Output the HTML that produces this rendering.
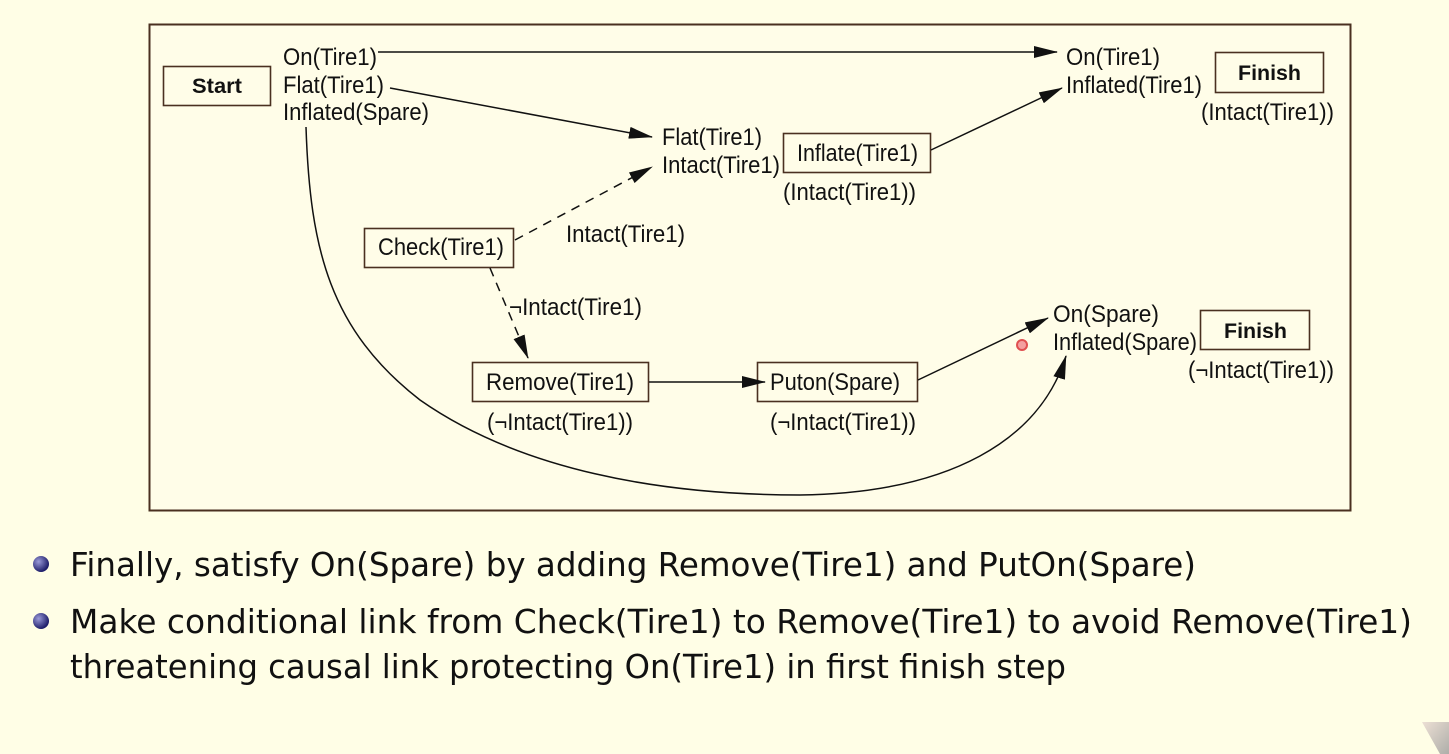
<!DOCTYPE html>
<html><head><meta charset="utf-8"><style>
html,body{margin:0;padding:0;background:#fffee6;}
svg{display:block}
.d{font-family:"Liberation Sans",sans-serif;font-size:24px;fill:#111;}
.b{font-family:"Liberation Sans",sans-serif;font-size:21px;font-weight:bold;fill:#111;}
.t{font-family:"DejaVu Sans","Liberation Sans",sans-serif;font-size:33px;fill:#111;}
</style></head><body>
<svg width="1449" height="754" viewBox="0 0 1449 754" xmlns="http://www.w3.org/2000/svg">
<defs>
<marker id="a" markerWidth="24" markerHeight="12" refX="23" refY="6" orient="auto" markerUnits="userSpaceOnUse"><path d="M0,0 L24,6 L0,12 z" fill="#111"/></marker>
<radialGradient id="g" cx="35%" cy="35%" r="65%"><stop offset="0" stop-color="#9a9ad8"/><stop offset="1" stop-color="#1e1e6a"/></radialGradient>
<linearGradient id="c" x1="0" y1="0" x2="1" y2="1"><stop offset="0" stop-color="#e8d8d0"/><stop offset="1" stop-color="#9a9a9a"/></linearGradient>
</defs>
<rect x="149.5" y="24.5" width="1201" height="486" fill="#fffde8" stroke="#4a3020" stroke-width="2"/>
<g fill="none" stroke="#4a3020" stroke-width="1.6">
<rect x="163.5" y="66.5" width="107" height="39"/>
<rect x="783.5" y="133.5" width="147" height="39"/>
<rect x="1215.5" y="52.5" width="108" height="40"/>
<rect x="364.5" y="228.5" width="149" height="39"/>
<rect x="472.5" y="362.5" width="176" height="39"/>
<rect x="757.5" y="362.5" width="160" height="39"/>
<rect x="1200.5" y="310.5" width="109" height="39"/>
</g>
<g fill="none" stroke="#111" stroke-width="1.5">
<line x1="378" y1="52" x2="1057" y2="52" marker-end="url(#a)"/>
<line x1="390" y1="88" x2="652" y2="137" marker-end="url(#a)"/>
<path d="M306,127 C310,250 330,330 420,400 C520,470 660,495 800,495 C950,493 1040,440 1066,356" marker-end="url(#a)"/>
<line x1="931" y1="150" x2="1062" y2="88" marker-end="url(#a)"/>
<line x1="515" y1="240" x2="652" y2="167" stroke-dasharray="9,7" marker-end="url(#a)"/>
<line x1="490" y1="268" x2="528" y2="358" stroke-dasharray="9,7" marker-end="url(#a)"/>
<line x1="649" y1="382" x2="765" y2="382" marker-end="url(#a)"/>
<line x1="918" y1="380" x2="1048" y2="318" marker-end="url(#a)"/>
</g>
<circle cx="1022" cy="345" r="5" fill="#f4a0a0" stroke="#e05050" stroke-width="2"/>
<text class="b" x="192" y="93" textLength="50" lengthAdjust="spacingAndGlyphs">Start</text>
<text class="d" x="283" y="65" textLength="94" lengthAdjust="spacingAndGlyphs">On(Tire1)</text>
<text class="d" x="283" y="93" textLength="101" lengthAdjust="spacingAndGlyphs">Flat(Tire1)</text>
<text class="d" x="283" y="120" textLength="146" lengthAdjust="spacingAndGlyphs">Inflated(Spare)</text>
<text class="d" x="662" y="145" textLength="100" lengthAdjust="spacingAndGlyphs">Flat(Tire1)</text>
<text class="d" x="662" y="173" textLength="118" lengthAdjust="spacingAndGlyphs">Intact(Tire1)</text>
<text class="d" x="797" y="161" textLength="121" lengthAdjust="spacingAndGlyphs">Inflate(Tire1)</text>
<text class="d" x="783" y="200" textLength="133" lengthAdjust="spacingAndGlyphs">(Intact(Tire1))</text>
<text class="d" x="1066" y="65" textLength="94" lengthAdjust="spacingAndGlyphs">On(Tire1)</text>
<text class="d" x="1066" y="93" textLength="136" lengthAdjust="spacingAndGlyphs">Inflated(Tire1)</text>
<text class="b" x="1238" y="80" textLength="63" lengthAdjust="spacingAndGlyphs">Finish</text>
<text class="d" x="1201" y="120" textLength="133" lengthAdjust="spacingAndGlyphs">(Intact(Tire1))</text>
<text class="d" x="378" y="255" textLength="126" lengthAdjust="spacingAndGlyphs">Check(Tire1)</text>
<text class="d" x="566" y="242" textLength="119" lengthAdjust="spacingAndGlyphs">Intact(Tire1)</text>
<text class="d" x="509" y="315" textLength="133" lengthAdjust="spacingAndGlyphs">¬Intact(Tire1)</text>
<text class="d" x="486" y="390" textLength="148" lengthAdjust="spacingAndGlyphs">Remove(Tire1)</text>
<text class="d" x="487" y="430" textLength="146" lengthAdjust="spacingAndGlyphs">(¬Intact(Tire1))</text>
<text class="d" x="770" y="390" textLength="130" lengthAdjust="spacingAndGlyphs">Puton(Spare)</text>
<text class="d" x="770" y="430" textLength="146" lengthAdjust="spacingAndGlyphs">(¬Intact(Tire1))</text>
<text class="d" x="1053" y="322" textLength="106" lengthAdjust="spacingAndGlyphs">On(Spare)</text>
<text class="d" x="1053" y="350" textLength="144" lengthAdjust="spacingAndGlyphs">Inflated(Spare)</text>
<text class="b" x="1224" y="338" textLength="63" lengthAdjust="spacingAndGlyphs">Finish</text>
<text class="d" x="1188" y="378" textLength="146" lengthAdjust="spacingAndGlyphs">(¬Intact(Tire1))</text>
<circle cx="41" cy="564" r="8" fill="url(#g)"/>
<circle cx="41" cy="621" r="8" fill="url(#g)"/>
<text class="t" x="70" y="576" textLength="1126" lengthAdjust="spacingAndGlyphs">Finally, satisfy On(Spare) by adding Remove(Tire1) and PutOn(Spare)</text>
<text class="t" x="70" y="633" textLength="1342" lengthAdjust="spacingAndGlyphs">Make conditional link from Check(Tire1) to Remove(Tire1) to avoid Remove(Tire1)</text>
<text class="t" x="70" y="678" textLength="996" lengthAdjust="spacingAndGlyphs">threatening causal link protecting On(Tire1) in first finish step</text>
<polygon points="1422,722 1449,722 1449,754 1440,754" fill="url(#c)" opacity="0.8"/>
</svg>
</body></html>
